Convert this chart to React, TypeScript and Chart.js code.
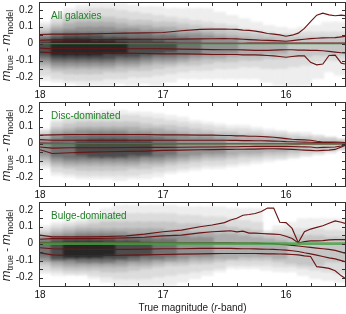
import React, { useEffect, useRef } from "react";
import { Chart, registerables } from "chart.js";

Chart.register(...registerables);

const FONT = "'Liberation Sans', Arial, Helvetica, sans-serif";
const _ = null;

// axis ranges and tick values
const X_MIN = 15.52;
const X_MAX = 18;
const Y_MIN = -0.25;
const Y_MAX = 0.24;
const X_MINOR_TICKS = [15.6, 15.8, 16.0, 16.2, 16.4, 16.6, 16.8, 17.0, 17.2, 17.4, 17.6, 17.8];
const Y_MINOR_TICKS = [-0.2, -0.15, -0.1, -0.05, 0, 0.05, 0.1, 0.15, 0.2];

// 2D-histogram columns (bin centres, 0.1 mag wide) and density-level greys
const HEAT_X = [17.95, 17.85, 17.75, 17.65, 17.55, 17.45, 17.35, 17.25, 17.15, 17.05, 16.95, 16.85, 16.75, 16.65, 16.55, 16.45, 16.35, 16.25, 16.15, 16.05, 15.95, 15.85, 15.75, 15.65, 15.55];
const HEAT_COLORS = ["#eeeeee", "#dcdcdc", "#c6c6c6", "#adadad", "#919191", "#727272", "#4c4c4c", "#262626"];

// ---- All galaxies: upper / lower edge of each density level per column
const ALL_L1_HI = [0.12, 0.16, 0.2, 0.22, 0.23, 0.23, 0.23, 0.22, 0.21, 0.21, 0.2, 0.2, 0.2, 0.2, 0.18, 0.16, 0.14, 0.12, 0.1, 0.09, 0.08, 0.09, 0.1, 0.12, 0.12];
const ALL_L1_LO = [-0.21, -0.22, -0.23, -0.24, -0.24, -0.24, -0.23, -0.24, -0.23, -0.24, -0.22, -0.2, -0.2, -0.2, -0.2, -0.2, -0.2, -0.2, -0.22, -0.24, -0.24, -0.24, -0.2, -0.16, -0.18];
const ALL_L2_HI = [0.1, 0.14, 0.17, 0.19, 0.2, 0.2, 0.19, 0.18, 0.17, 0.16, 0.15, 0.14, 0.13, 0.12, 0.11, 0.1, 0.08, 0.07, 0.06, 0.05, 0.05, 0.06, 0.06, 0.06, 0.06];
const ALL_L2_LO = [-0.18, -0.2, -0.21, -0.21, -0.21, -0.2, -0.2, -0.19, -0.19, -0.18, -0.17, -0.16, -0.15, -0.15, -0.14, -0.14, -0.13, -0.13, -0.14, -0.14, -0.13, -0.12, -0.1, -0.09, -0.09];
const ALL_L3_HI = [0.08, 0.11, 0.14, 0.15, 0.15, 0.15, 0.14, 0.13, 0.13, 0.12, 0.12, 0.11, 0.1, 0.09, 0.08, 0.07, 0.06, 0.05, 0.04, 0.04, 0.03, 0.03, 0.03, 0.03, 0.03];
const ALL_L3_LO = [-0.14, -0.16, -0.17, -0.17, -0.17, -0.16, -0.16, -0.15, -0.15, -0.14, -0.13, -0.12, -0.12, -0.11, -0.1, -0.1, -0.09, -0.09, -0.08, -0.08, -0.07, -0.07, -0.06, -0.06, -0.06];
const ALL_L4_HI = [0.06, 0.09, 0.11, 0.12, 0.12, 0.12, 0.11, 0.1, 0.1, 0.09, 0.09, 0.08, 0.07, 0.06, 0.05, 0.04, 0.03, 0.02, 0.02, 0.01, _, _, _, _, _];
const ALL_L4_LO = [-0.12, -0.14, -0.14, -0.14, -0.14, -0.14, -0.13, -0.13, -0.12, -0.11, -0.11, -0.1, -0.09, -0.08, -0.08, -0.07, -0.06, -0.06, -0.05, -0.05, _, _, _, _, _];
const ALL_L5_HI = [0.04, 0.07, 0.08, 0.09, 0.09, 0.09, 0.08, 0.08, 0.07, 0.07, 0.06, 0.05, 0.05, 0.04, 0.03, 0.02, _, _, _, _, _, _, _, _, _];
const ALL_L5_LO = [-0.1, -0.12, -0.12, -0.12, -0.12, -0.12, -0.11, -0.11, -0.1, -0.09, -0.09, -0.08, -0.07, -0.06, -0.06, -0.05, _, _, _, _, _, _, _, _, _];
const ALL_L6_HI = [0.03, 0.05, 0.06, 0.06, 0.06, 0.06, 0.06, 0.05, 0.05, 0.04, 0.04, 0.03, 0.02, _, _, _, _, _, _, _, _, _, _, _, _];
const ALL_L6_LO = [-0.08, -0.1, -0.1, -0.1, -0.1, -0.1, -0.09, -0.09, -0.08, -0.07, -0.07, -0.06, -0.05, _, _, _, _, _, _, _, _, _, _, _, _];
const ALL_L7_HI = [0.01, 0.03, 0.04, 0.04, 0.04, 0.03, 0.03, 0.02, 0.02, 0.01, 0.0, _, _, _, _, _, _, _, _, _, _, _, _, _, _];
const ALL_L7_LO = [-0.06, -0.08, -0.08, -0.08, -0.08, -0.08, -0.07, -0.07, -0.06, -0.05, -0.04, _, _, _, _, _, _, _, _, _, _, _, _, _, _];
const ALL_L8_HI = [_, 0.01, 0.02, 0.02, 0.01, 0.01, 0.0, _, _, _, _, _, _, _, _, _, _, _, _, _, _, _, _, _, _];
const ALL_L8_LO = [_, -0.06, -0.06, -0.06, -0.06, -0.05, -0.05, _, _, _, _, _, _, _, _, _, _, _, _, _, _, _, _, _, _];

// ---- Disc-dominated
const DISC_L1_HI = [0.08, 0.14, 0.16, 0.18, 0.18, 0.19, 0.19, 0.18, 0.18, 0.17, 0.16, 0.15, 0.13, 0.12, 0.11, 0.1, 0.1, 0.09, 0.08, 0.07, 0.06, 0.06, 0.04, 0.03, 0.02];
const DISC_L1_LO = [-0.14, -0.18, -0.19, -0.2, -0.2, -0.2, -0.21, -0.2, -0.2, -0.19, -0.17, -0.16, -0.15, -0.14, -0.14, -0.13, -0.12, -0.11, -0.1, -0.09, -0.08, -0.07, -0.06, -0.05, -0.03];
const DISC_L2_HI = [0.07, 0.12, 0.14, 0.15, 0.16, 0.16, 0.16, 0.16, 0.15, 0.14, 0.13, 0.12, 0.11, 0.1, 0.09, 0.08, 0.08, 0.07, 0.06, 0.06, 0.05, 0.04, 0.04, 0.03, 0.02];
const DISC_L2_LO = [-0.12, -0.16, -0.17, -0.18, -0.18, -0.18, -0.18, -0.18, -0.17, -0.16, -0.15, -0.14, -0.13, -0.12, -0.12, -0.11, -0.1, -0.09, -0.08, -0.08, -0.07, -0.06, -0.05, -0.04, -0.03];
const DISC_L3_HI = [0.05, 0.09, 0.11, 0.12, 0.12, 0.12, 0.12, 0.12, 0.11, 0.1, 0.1, 0.09, 0.08, 0.07, 0.06, 0.06, 0.05, 0.05, 0.04, 0.04, 0.03, 0.03, 0.02, 0.02, 0.01];
const DISC_L3_LO = [-0.1, -0.13, -0.14, -0.15, -0.15, -0.15, -0.15, -0.14, -0.14, -0.13, -0.12, -0.11, -0.1, -0.09, -0.09, -0.08, -0.07, -0.07, -0.06, -0.06, -0.05, -0.04, -0.04, -0.03, -0.02];
const DISC_L4_HI = [0.03, 0.07, 0.08, 0.09, 0.09, 0.09, 0.09, 0.09, 0.08, 0.08, 0.07, 0.06, 0.05, 0.05, 0.04, 0.04, 0.03, 0.03, 0.02, 0.02, 0.01, _, _, _, _];
const DISC_L4_LO = [-0.08, -0.11, -0.12, -0.12, -0.12, -0.12, -0.12, -0.12, -0.11, -0.11, -0.1, -0.09, -0.08, -0.07, -0.07, -0.06, -0.05, -0.05, -0.04, -0.04, -0.03, _, _, _, _];
const DISC_L5_HI = [0.01, 0.05, 0.06, 0.07, 0.07, 0.07, 0.07, 0.06, 0.06, 0.05, 0.05, 0.04, 0.03, 0.03, 0.02, _, _, _, _, _, _, _, _, _, _];
const DISC_L5_LO = [-0.06, -0.09, -0.1, -0.1, -0.1, -0.1, -0.1, -0.1, -0.09, -0.09, -0.08, -0.07, -0.06, -0.05, -0.05, _, _, _, _, _, _, _, _, _, _];
const DISC_L6_HI = [_, 0.02, 0.04, 0.04, 0.05, 0.05, 0.05, 0.04, 0.04, 0.03, 0.02, _, _, _, _, _, _, _, _, _, _, _, _, _, _];
const DISC_L6_LO = [_, -0.07, -0.08, -0.08, -0.08, -0.08, -0.08, -0.08, -0.07, -0.07, -0.06, _, _, _, _, _, _, _, _, _, _, _, _, _, _];
const DISC_L7_HI = [_, _, _, 0.01, 0.02, 0.02, 0.02, 0.01, 0.01, _, _, _, _, _, _, _, _, _, _, _, _, _, _, _, _];
const DISC_L7_LO = [_, _, _, -0.06, -0.07, -0.07, -0.07, -0.06, -0.06, _, _, _, _, _, _, _, _, _, _, _, _, _, _, _, _];
const DISC_L8_HI = [_, _, _, _, _, _, _, _, _, _, _, _, _, _, _, _, _, _, _, _, _, _, _, _, _];
const DISC_L8_LO = [_, _, _, _, _, _, _, _, _, _, _, _, _, _, _, _, _, _, _, _, _, _, _, _, _];

// ---- Bulge-dominated
const BULGE_L1_HI = [0.1, 0.12, 0.13, 0.14, 0.16, 0.2, 0.22, 0.22, 0.22, 0.22, 0.22, 0.21, 0.21, 0.21, 0.21, 0.2, 0.2, 0.2, 0.07, 0.1, 0.12, 0.14, 0.14, 0.14, 0.14];
const BULGE_L1_LO = [-0.17, -0.18, -0.18, -0.18, -0.2, -0.22, -0.24, -0.24, -0.24, -0.24, -0.24, -0.22, -0.2, -0.18, -0.16, -0.14, -0.14, -0.14, -0.15, -0.16, -0.16, -0.18, -0.2, -0.21, -0.22];
const BULGE_L2_HI = [0.08, 0.1, 0.11, 0.12, 0.14, 0.16, 0.17, 0.17, 0.17, 0.17, 0.17, 0.16, 0.16, 0.15, 0.15, 0.14, 0.13, 0.12, 0.06, 0.07, 0.08, 0.08, 0.08, 0.07, 0.07];
const BULGE_L2_LO = [-0.15, -0.16, -0.17, -0.17, -0.18, -0.19, -0.2, -0.2, -0.2, -0.19, -0.18, -0.17, -0.16, -0.15, -0.14, -0.12, -0.12, -0.12, -0.12, -0.13, -0.13, -0.14, -0.15, -0.16, -0.17];
const BULGE_L3_HI = [0.06, 0.08, 0.09, 0.1, 0.11, 0.12, 0.12, 0.12, 0.12, 0.12, 0.12, 0.11, 0.11, 0.1, 0.1, 0.09, 0.08, 0.07, 0.04, 0.04, 0.04, 0.04, 0.04, 0.03, 0.03];
const BULGE_L3_LO = [-0.12, -0.14, -0.15, -0.15, -0.15, -0.16, -0.16, -0.15, -0.14, -0.13, -0.12, -0.12, -0.11, -0.11, -0.1, -0.09, -0.09, -0.09, -0.09, -0.1, -0.11, -0.12, -0.12, -0.1, -0.1];
const BULGE_L4_HI = [0.04, 0.06, 0.07, 0.08, 0.08, 0.08, 0.08, 0.08, 0.08, 0.08, 0.07, 0.07, 0.06, 0.06, 0.05, 0.05, 0.04, 0.03, 0.02, 0.01, _, _, _, _, _];
const BULGE_L4_LO = [-0.1, -0.12, -0.13, -0.13, -0.13, -0.13, -0.13, -0.12, -0.12, -0.11, -0.1, -0.1, -0.09, -0.09, -0.08, -0.08, -0.07, -0.07, -0.07, -0.08, _, _, _, _, _];
const BULGE_L5_HI = [0.03, 0.04, 0.05, 0.06, 0.06, 0.06, 0.06, 0.05, 0.05, 0.05, 0.04, 0.04, 0.03, 0.03, _, _, _, _, _, _, _, _, _, _, _];
const BULGE_L5_LO = [-0.09, -0.1, -0.11, -0.11, -0.11, -0.11, -0.11, -0.1, -0.1, -0.09, -0.09, -0.08, -0.07, -0.07, _, _, _, _, _, _, _, _, _, _, _];
const BULGE_L6_HI = [0.01, 0.03, 0.03, 0.04, 0.04, 0.04, 0.03, 0.03, 0.03, 0.02, 0.02, _, _, _, _, _, _, _, _, _, _, _, _, _, _];
const BULGE_L6_LO = [-0.07, -0.09, -0.09, -0.1, -0.1, -0.1, -0.09, -0.09, -0.08, -0.08, -0.07, _, _, _, _, _, _, _, _, _, _, _, _, _, _];
const BULGE_L7_HI = [_, 0.01, 0.02, 0.02, 0.02, 0.02, 0.01, 0.01, 0.0, _, _, _, _, _, _, _, _, _, _, _, _, _, _, _, _];
const BULGE_L7_LO = [_, -0.08, -0.08, -0.08, -0.08, -0.08, -0.08, -0.07, -0.06, _, _, _, _, _, _, _, _, _, _, _, _, _, _, _, _];
const BULGE_L8_HI = [_, _, 0.0, 0.0, 0.0, -0.01, _, _, _, _, _, _, _, _, _, _, _, _, _, _, _, _, _, _, _];
const BULGE_L8_LO = [_, _, -0.07, -0.07, -0.07, -0.06, _, _, _, _, _, _, _, _, _, _, _, _, _, _, _, _, _, _, _];

// percentile curves, sampled at these magnitudes
const LINE_X = [18.0, 17.9, 17.75, 17.6, 17.45, 17.3, 17.15, 17.0, 16.85, 16.7, 16.6, 16.5, 16.45, 16.4, 16.35, 16.3, 16.25, 16.2, 16.15, 16.1, 16.05, 16.0, 15.95, 15.9, 15.85, 15.8, 15.75, 15.7, 15.65, 15.6, 15.55, 15.52];

const ALL_UP2 = [0.054, 0.056, 0.056, 0.058, 0.06, 0.062, 0.064, 0.066, 0.076, 0.084, 0.086, 0.086, 0.085, 0.084, 0.08, 0.078, 0.074, 0.068, 0.06, 0.056, 0.052, 0.044, 0.05, 0.062, 0.09, 0.13, 0.168, 0.18, 0.17, 0.165, 0.168, 0.165];
const ALL_UP1 = [0.02, 0.022, 0.022, 0.024, 0.024, 0.025, 0.026, 0.026, 0.027, 0.028, 0.029, 0.03, 0.029, 0.028, 0.026, 0.024, 0.022, 0.02, 0.019, 0.018, 0.016, 0.014, 0.018, 0.022, 0.026, 0.03, 0.032, 0.034, 0.035, 0.036, 0.04, 0.042];
const ALL_MED = [0.002, 0.002, 0.002, 0.002, 0.002, 0.002, 0.002, 0.002, 0.002, 0.002, 0.002, 0.002, 0.002, 0.002, 0.002, 0.003, 0.003, 0.003, 0.003, 0.003, 0.003, 0.003, 0.003, 0.003, 0.003, 0.004, 0.004, 0.004, 0.004, 0.004, 0.004, 0.004];
const ALL_LO1 = [-0.026, -0.03, -0.03, -0.03, -0.03, -0.03, -0.03, -0.03, -0.032, -0.034, -0.035, -0.036, -0.036, -0.036, -0.037, -0.038, -0.04, -0.04, -0.04, -0.038, -0.037, -0.036, -0.036, -0.038, -0.038, -0.04, -0.04, -0.042, -0.046, -0.05, -0.054, -0.055];
const ALL_LO2 = [-0.05, -0.054, -0.056, -0.056, -0.056, -0.056, -0.058, -0.06, -0.06, -0.062, -0.064, -0.064, -0.064, -0.064, -0.066, -0.066, -0.066, -0.068, -0.07, -0.072, -0.076, -0.08, -0.076, -0.072, -0.072, -0.11, -0.125, -0.12, -0.07, -0.068, -0.115, -0.12];

const DISC_UP2 = [0.05, 0.052, 0.054, 0.054, 0.054, 0.054, 0.054, 0.052, 0.052, 0.05, 0.05, 0.048, 0.048, 0.046, 0.046, 0.044, 0.044, 0.042, 0.04, 0.038, 0.034, 0.03, 0.026, 0.024, 0.022, 0.02, 0.014, 0.01, 0.01, 0.01, 0.008, 0.006];
const DISC_UP1 = [0.024, 0.02, 0.02, 0.02, 0.02, 0.02, 0.02, 0.02, 0.02, 0.02, 0.02, 0.02, 0.019, 0.019, 0.018, 0.018, 0.017, 0.017, 0.016, 0.015, 0.014, 0.012, 0.011, 0.01, 0.009, 0.008, 0.007, 0.006, 0.006, 0.005, 0.004, 0.004];
const DISC_MED = [0.004, 0.002, 0.001, 0, 0, 0, 0, 0, 0, 0, 0, 0, 0, 0, 0, 0, 0, 0, 0, 0, 0, 0, -0.001, -0.001, -0.001, -0.001, -0.002, -0.002, -0.002, -0.002, -0.002, -0.002];
const DISC_LO1 = [-0.02, -0.026, -0.024, -0.024, -0.024, -0.023, -0.022, -0.022, -0.021, -0.02, -0.02, -0.018, -0.018, -0.018, -0.017, -0.017, -0.016, -0.016, -0.016, -0.016, -0.016, -0.016, -0.017, -0.018, -0.019, -0.02, -0.024, -0.022, -0.021, -0.02, -0.014, -0.006];
const DISC_LO2 = [-0.036, -0.058, -0.054, -0.05, -0.048, -0.046, -0.044, -0.04, -0.038, -0.036, -0.035, -0.034, -0.034, -0.033, -0.033, -0.032, -0.032, -0.031, -0.03, -0.03, -0.031, -0.032, -0.034, -0.036, -0.038, -0.04, -0.042, -0.04, -0.038, -0.034, -0.02, -0.01];

const BULGE_UP2 = [0.05, 0.04, 0.04, 0.04, 0.042, 0.046, 0.056, 0.07, 0.08, 0.1, 0.11, 0.124, 0.14, 0.15, 0.168, 0.172, 0.178, 0.19, 0.21, 0.21, 0.126, 0.124, 0.09, 0.006, 0.07, 0.086, 0.096, 0.106, 0.12, 0.134, 0.126, 0.12];
const BULGE_UP1 = [0.026, 0.03, 0.03, 0.03, 0.032, 0.034, 0.038, 0.046, 0.05, 0.064, 0.07, 0.074, 0.076, 0.07, 0.074, 0.062, 0.062, 0.06, 0.058, 0.056, 0.054, 0.044, 0.03, 0.004, 0.012, 0.016, 0.016, 0.018, 0.022, 0.024, 0.024, 0.024];
const BULGE_MED = [0.006, 0.005, 0.005, 0.005, 0.005, 0.005, 0.005, 0.005, 0.005, 0.005, 0.005, 0.005, 0.005, 0.004, 0.004, 0.004, 0.003, 0.002, 0.001, 0, -0.004, -0.006, -0.01, -0.014, -0.018, -0.022, -0.026, -0.03, -0.034, -0.04, -0.05, -0.056];
const BULGE_LO1 = [-0.024, -0.03, -0.032, -0.034, -0.034, -0.034, -0.032, -0.03, -0.03, -0.028, -0.028, -0.028, -0.028, -0.029, -0.03, -0.03, -0.031, -0.032, -0.033, -0.034, -0.036, -0.038, -0.042, -0.046, -0.054, -0.06, -0.068, -0.076, -0.084, -0.09, -0.1, -0.106];
const BULGE_LO2 = [-0.054, -0.066, -0.07, -0.07, -0.07, -0.068, -0.066, -0.064, -0.062, -0.06, -0.059, -0.058, -0.058, -0.058, -0.058, -0.058, -0.058, -0.059, -0.06, -0.06, -0.061, -0.062, -0.064, -0.066, -0.072, -0.076, -0.136, -0.14, -0.146, -0.16, -0.19, -0.204];

const ZERO = LINE_X.map(() => 0);

const PANELS = [
  {
    label: "All galaxies",
    heat: [[ALL_L1_HI, ALL_L1_LO], [ALL_L2_HI, ALL_L2_LO], [ALL_L3_HI, ALL_L3_LO], [ALL_L4_HI, ALL_L4_LO], [ALL_L5_HI, ALL_L5_LO], [ALL_L6_HI, ALL_L6_LO], [ALL_L7_HI, ALL_L7_LO], [ALL_L8_HI, ALL_L8_LO]],
    lines: [ALL_UP2, ALL_UP1, ALL_MED, ALL_LO1, ALL_LO2],
    zeroWidth: 1.4, zeroColor: "#1f8f1f",
    top: 0, height: 100, xTitle: false,
  },
  {
    label: "Disc-dominated",
    heat: [[DISC_L1_HI, DISC_L1_LO], [DISC_L2_HI, DISC_L2_LO], [DISC_L3_HI, DISC_L3_LO], [DISC_L4_HI, DISC_L4_LO], [DISC_L5_HI, DISC_L5_LO], [DISC_L6_HI, DISC_L6_LO], [DISC_L7_HI, DISC_L7_LO], [DISC_L8_HI, DISC_L8_LO]],
    lines: [DISC_UP2, DISC_UP1, DISC_MED, DISC_LO1, DISC_LO2],
    zeroWidth: 1.4, zeroColor: "#1f8f1f",
    top: 100, height: 100, xTitle: false,
  },
  {
    label: "Bulge-dominated",
    heat: [[BULGE_L1_HI, BULGE_L1_LO], [BULGE_L2_HI, BULGE_L2_LO], [BULGE_L3_HI, BULGE_L3_LO], [BULGE_L4_HI, BULGE_L4_LO], [BULGE_L5_HI, BULGE_L5_LO], [BULGE_L6_HI, BULGE_L6_LO], [BULGE_L7_HI, BULGE_L7_LO], [BULGE_L8_HI, BULGE_L8_LO]],
    lines: [BULGE_UP2, BULGE_UP1, BULGE_MED, BULGE_LO1, BULGE_LO2],
    zeroWidth: 2.6, zeroColor: "rgba(70,160,70,0.8)",
    top: 200, height: 114, xTitle: true,
  },
];

const PLOT_TOP = 3;
const PLOT_H = 83;

const softHeat = {
  id: "softHeat",
  beforeDatasetDraw(chart: any, args: any) {
    if (args.meta.type === "bar") {
      chart.ctx.save();
      chart.ctx.filter = "blur(1.1px)";
    }
  },
  afterDatasetDraw(chart: any, args: any) {
    if (args.meta.type === "bar") {
      chart.ctx.restore();
    }
  },
};

function makeDecor(label: string, xTitle: boolean) {
  return {
    id: "decor",
    afterDraw(chart: any) {
      const { ctx, chartArea: a, scales } = chart;
      const xs = scales.x;
      const ys = scales.y;
      ctx.save();
      ctx.strokeStyle = "#333";
      ctx.lineWidth = 1;
      ctx.beginPath();
      for (const v of X_MINOR_TICKS) {
        const px = Math.round(xs.getPixelForValue(v)) + 0.5;
        ctx.moveTo(px, a.top);
        ctx.lineTo(px, a.top + 3);
        ctx.moveTo(px, a.bottom);
        ctx.lineTo(px, a.bottom - 3);
      }
      for (const v of Y_MINOR_TICKS) {
        const py = Math.round(ys.getPixelForValue(v)) + 0.5;
        ctx.moveTo(a.left, py);
        ctx.lineTo(a.left + 3, py);
        ctx.moveTo(a.right, py);
        ctx.lineTo(a.right - 3, py);
      }
      ctx.stroke();
      ctx.strokeRect(a.left - 0.5, a.top - 0.5, a.right - a.left + 1, a.bottom - a.top + 1);

      // panel label
      ctx.fillStyle = "#23802a";
      ctx.font = `10px ${FONT}`;
      ctx.textAlign = "left";
      ctx.textBaseline = "middle";
      ctx.fillText(label, a.left + 11, a.top + 13);

      // y-axis title: m_true - m_model
      const parts = [
        { t: "m", f: `italic 13px ${FONT}`, dy: 0 },
        { t: "true", f: `9px ${FONT}`, dy: 3 },
        { t: " - ", f: `11px ${FONT}`, dy: 0 },
        { t: "m", f: `italic 13px ${FONT}`, dy: 0 },
        { t: "model", f: `9px ${FONT}`, dy: 3 },
      ];
      let total = 0;
      for (const p of parts) {
        ctx.font = p.f;
        total += ctx.measureText(p.t).width;
      }
      ctx.translate(10, (a.top + a.bottom) / 2 + 1);
      ctx.rotate(-Math.PI / 2);
      ctx.fillStyle = "#222";
      ctx.textBaseline = "alphabetic";
      let x = -total / 2;
      for (const p of parts) {
        ctx.font = p.f;
        ctx.fillText(p.t, x, p.dy);
        x += ctx.measureText(p.t).width;
      }
      ctx.setTransform(1, 0, 0, 1, 0, 0);

      if (xTitle) {
        const tp = [
          { t: "True magnitude (", f: `10px ${FONT}` },
          { t: "r", f: `italic 10px ${FONT}` },
          { t: "-band)", f: `10px ${FONT}` },
        ];
        let w = 0;
        for (const p of tp) {
          ctx.font = p.f;
          w += ctx.measureText(p.t).width;
        }
        let tx = (a.left + a.right) / 2 - w / 2;
        ctx.textBaseline = "middle";
        ctx.fillStyle = "#222";
        for (const p of tp) {
          ctx.font = p.f;
          ctx.fillText(p.t, tx, 108);
          tx += ctx.measureText(p.t).width;
        }
      }
      ctx.restore();
    },
  };
}

function buildConfig(p: any): any {
  const datasets: any[] = [];
  datasets.push({
    type: "line",
    data: LINE_X.map((x, i) => ({ x, y: ZERO[i] })),
    borderColor: p.zeroColor,
    borderWidth: p.zeroWidth,
    pointRadius: 0,
    fill: false,
    order: 0,
  });
  p.lines.forEach((arr: number[]) => {
    datasets.push({
      type: "line",
      data: LINE_X.map((x, i) => ({ x, y: arr[i] })),
      borderColor: "#6a1515",
      borderWidth: 1.15,
      pointRadius: 0,
      fill: false,
      order: 0,
    });
  });
  p.heat.forEach(([hi, lo]: any[], lvl: number) => {
    const data = HEAT_X.map((x, i) => (hi[i] == null ? null : { x, y: [lo[i], hi[i]] })).filter(Boolean);
    if (!data.length) return;
    datasets.push({
      type: "bar",
      data,
      backgroundColor: HEAT_COLORS[lvl],
      borderWidth: 0,
      barPercentage: 1,
      categoryPercentage: 1,
      inflateAmount: 1.5,
      grouped: false,
      order: 20 - lvl,
    });
  });

  const xAxisH = p.height - PLOT_TOP - PLOT_H;
  return {
    type: "bar",
    data: { datasets },
    options: {
      animation: false,
      responsive: false,
      events: [],
      layout: { padding: { top: PLOT_TOP, right: 1, left: 0, bottom: 0 } },
      plugins: { legend: { display: false }, tooltip: { enabled: false } },
      scales: {
        x: {
          type: "linear",
          reverse: true,
          min: X_MIN,
          max: X_MAX,
          offset: false,
          grid: { display: false, drawTicks: false, offset: false },
          border: { display: false },
          afterFit: (s: any) => {
            s.height = xAxisH;
            s.paddingLeft = 0;
            s.paddingRight = 0;
          },
          ticks: {
            stepSize: 1,
            includeBounds: false,
            autoSkip: false,
            maxRotation: 0,
            padding: 3,
            color: "#111",
            font: { family: FONT, size: 10 },
            callback: (v: number) => (Math.abs(v - Math.round(v)) < 1e-6 ? String(Math.round(v)) : ""),
          },
        },
        y: {
          type: "linear",
          min: Y_MIN,
          max: Y_MAX,
          grid: { display: false, drawTicks: false },
          border: { display: false },
          afterFit: (s: any) => {
            s.width = 40;
            s.paddingTop = 0;
            s.paddingBottom = 0;
          },
          ticks: {
            stepSize: 0.1,
            includeBounds: false,
            autoSkip: false,
            padding: 7,
            color: "#111",
            font: { family: FONT, size: 10 },
            callback: (v: number) => {
              const r = Math.round(v * 10);
              if (Math.abs(v * 10 - r) > 1e-6) return "";
              return r === 0 ? "0" : (r / 10).toFixed(1);
            },
          },
        },
      },
    },
    plugins: [softHeat, makeDecor(p.label, p.xTitle)],
  };
}

function Panel({ p }: { p: any }) {
  const ref = useRef<HTMLCanvasElement>(null);
  useEffect(() => {
    const chart = new Chart(ref.current as HTMLCanvasElement, buildConfig(p));
    return () => chart.destroy();
  }, []);
  return (
    <canvas
      ref={ref}
      width={346}
      height={p.height}
      style={{ position: "absolute", left: 0, top: p.top, width: 346, height: p.height, display: "block" }}
    />
  );
}

export default function App() {
  return (
    <div style={{ position: "absolute", left: 0, top: 0, width: 346, height: 314, background: "#fff" }}>
      {PANELS.map((p) => (
        <Panel key={p.label} p={p} />
      ))}
    </div>
  );
}
